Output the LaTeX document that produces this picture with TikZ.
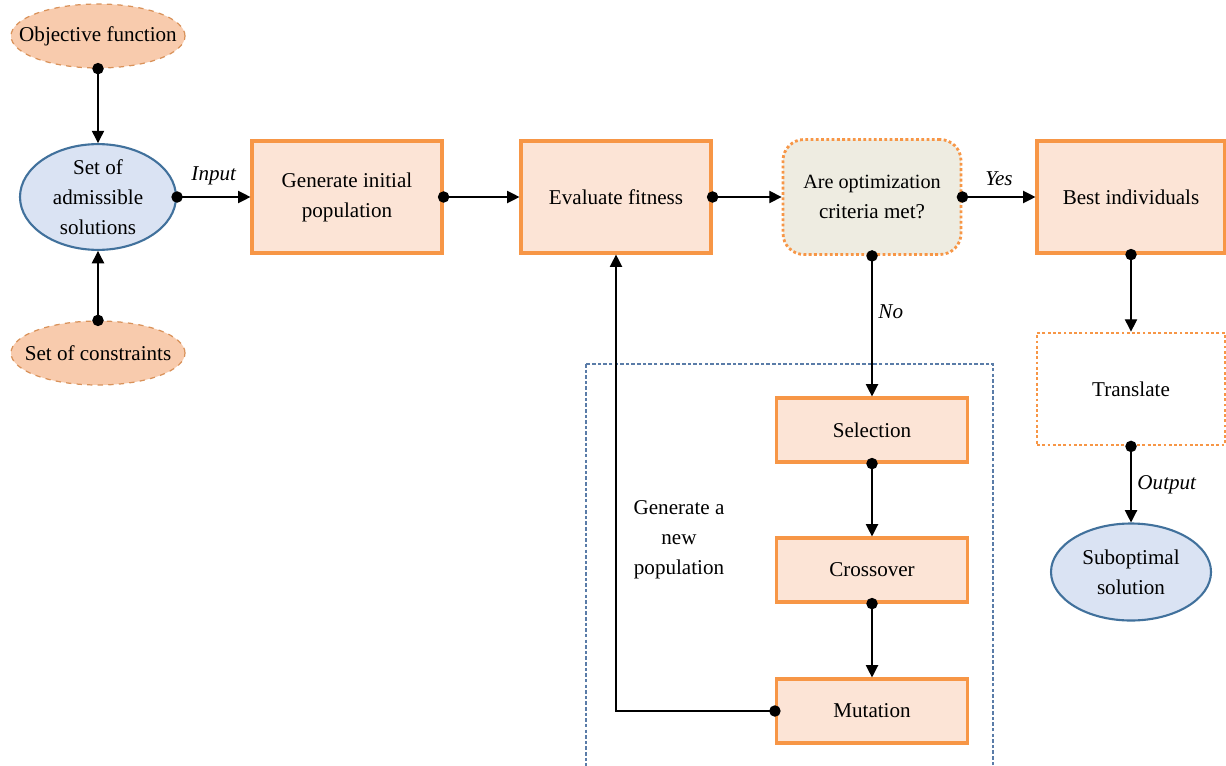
\documentclass[tikz,border=0pt]{standalone}
\usepackage{fontspec}
\setmainfont{Liberation Serif}
\usetikzlibrary{arrows.meta,shapes.geometric}

\definecolor{boxline}{HTML}{F79646}
\definecolor{boxfill}{HTML}{FCE4D6}
\definecolor{inpfill}{HTML}{F8CBAD}
\definecolor{inpline}{HTML}{D9925A}
\definecolor{solfill}{HTML}{DAE3F3}
\definecolor{solline}{HTML}{41719C}
\definecolor{critfill}{HTML}{EEECE1}
\definecolor{loopline}{HTML}{5A7CA8}

\tikzset{
  every node/.style={font=\fontsize{12}{17}\selectfont, align=center},
  procbox/.style={rectangle, draw=boxline, fill=boxfill, line width=1.8pt,
    minimum width=3.8cm, minimum height=2.24cm},
  smallbox/.style={procbox, minimum width=3.82cm, minimum height=1.28cm},
  inpell/.style={ellipse, draw=inpline, fill=inpfill, dashed, line width=0.7pt,
    minimum width=3.48cm, minimum height=1.28cm, inner xsep=-10pt, inner ysep=0pt},
  solell/.style={ellipse, draw=solline, fill=solfill, line width=1.2pt, inner sep=0pt},
  critbox/.style={rectangle, rounded corners=12pt, draw=boxline, fill=critfill,
    dash pattern=on 1.6pt off 1.4pt, line width=1.6pt, minimum width=3.56cm, minimum height=2.3cm},
  transbox/.style={rectangle, draw=boxline, fill=white, dash pattern=on 1.6pt off 1.4pt,
    line width=1.6pt, minimum width=3.76cm, minimum height=2.24cm},
  conn/.style={{Circle[length=6.5pt]}-{Triangle[length=7pt,width=7pt]},
    line width=0.7pt, shorten <=-3.25pt},
  lbl/.style={font=\fontsize{12}{17}\selectfont\itshape}
}

\begin{document}
\begin{tikzpicture}
    \useasboundingbox (0,0) rectangle (24.52,-15.3);

    % loop frame
    \draw[loopline, line width=0.6pt, dash pattern=on 2pt off 1.2pt]
        (11.72,-7.28) rectangle (19.86,-15.6);

    % inputs
    \node[inpell] (obj) at (1.96,-0.72) {Objective function};
    \node[solell, minimum width=3.12cm, minimum height=1.96cm] (adm) at (1.96,-3.94) {Set of\\admissible\\solutions};
    \node[inpell] (cons) at (1.96,-7.06) {Set of constraints};

    % main row
    \node[procbox] (gen) at (6.94,-3.94) {Generate initial\\population};
    \node[procbox] (eval) at (12.32,-3.94) {Evaluate fitness};
    \node[critbox] (crit) at (17.44,-3.94) {\fontsize{11.5}{17}\selectfont Are optimization\\criteria met?};
    \node[procbox, minimum width=3.76cm] (best) at (22.62,-3.94) {Best individuals};

    % output
    \node[transbox] (trans) at (22.62,-7.78) {Translate};
    \node[solell, minimum width=3.2cm, minimum height=1.94cm] (subopt) at (22.62,-11.44) {Suboptimal\\solution};

    % operators
    \node[smallbox] (sel) at (17.44,-8.6) {Selection};
    \node[smallbox] (cross) at (17.44,-11.4) {Crossover};
    \node[smallbox] (mut) at (17.44,-14.22) {Mutation};

    \node (newpop) at (13.58,-10.8) {Generate a\\new\\population};

    \draw[conn] (obj.south) -- (adm.north);
    \draw[conn] (cons.north) -- (adm.south);
    \draw[conn] (adm.east) -- node[lbl, above=3pt] {Input} (gen.west);
    \draw[conn] (gen.east) -- (eval.west);
    \draw[conn] (eval.east) -- (crit.west);
    \draw[conn] (crit.east) -- node[lbl, above=3pt] {Yes} (best.west);
    \draw[conn] (best.south) -- (trans.north);
    \draw[conn] (trans.south) -- node[lbl, right] {Output} (subopt.north);
    \draw[conn] (crit.south) -- node[lbl, right, pos=0.4] {No} (sel.north);
    \draw[conn] (sel.south) -- (cross.north);
    \draw[conn] (cross.south) -- (mut.north);
    \draw[conn] (mut.west) -| (eval.south);
\end{tikzpicture}
\end{document}
